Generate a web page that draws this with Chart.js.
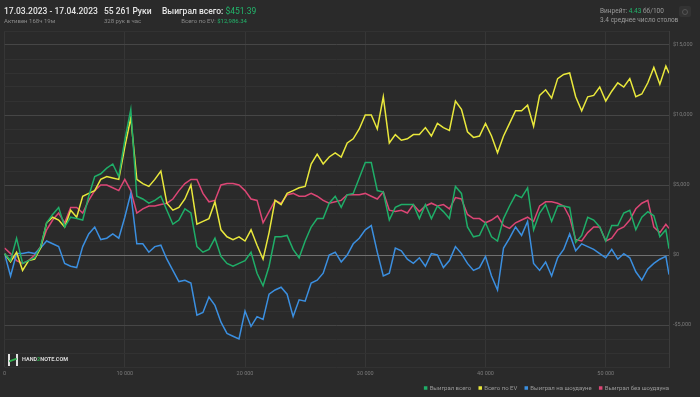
<!DOCTYPE html>
<html>
<head>
<meta charset="utf-8">
<script src="https://cdn.jsdelivr.net/npm/chart.js@4"></script>
<style>
  html, body { margin: 0; padding: 0; background: #2a2a2a; overflow: hidden; }
  body { width: 700px; height: 397px; position: relative; font-family: Roboto, "Noto Sans", sans-serif; }
  .t { position: absolute; white-space: nowrap; line-height: 1; }
  .big { font-size: 8.5px; font-weight: 500; color: #e6e6e6; }
  .small { font-size: 6px; color: #8a8a8a; }
  .g { color: #22b56b; }
  #wrap { position: absolute; left: 0; top: 0; width: 700px; height: 401px; }
</style>
</head>
<body>
<div id="wrap"><canvas id="myChart" width="700" height="401"></canvas></div>

<div class="t big" style="left:4px; top:7px;">17.03.2023 - 17.04.2023</div>
<div class="t small" style="left:4px; top:18px;">Активен 168ч 19м</div>
<div class="t big" style="left:104px; top:7px;">55 261 Руки</div>
<div class="t small" style="left:104px; top:18px;">328 рук в час</div>
<div class="t big" style="left:162px; top:7px;">Выиграл всего: <span class="g" style="font-weight:400">$451.39</span></div>
<div class="t small" style="right:453px; top:18px;">Всего по EV: <span class="g">$12,986.34</span></div>
<div class="t small" style="left:600px; top:8px; font-size:6.5px; color:#9a9a9a;">Винрейт: <span class="g">4.43</span> бб/100</div>
<div class="t small" style="left:600px; top:17px; font-size:6.5px; color:#9a9a9a;">3.4 среднее число столов</div>
<div style="position:absolute; left:679px; top:6px; width:12px; height:11px; background:#333; border-radius:2px;">
  <div style="position:absolute; left:3px; top:2.5px; width:4px; height:4px; border:1px solid #555; border-radius:50%;"></div>
</div>

<div style="position:absolute; left:8px; top:354px; width:2px; height:12px; background:#e0e0e0;"></div>
<div style="position:absolute; left:16px; top:354px; width:2px; height:12px; background:#e0e0e0;"></div>
<div style="position:absolute; left:9px; top:359px; width:8px; height:2px; background:#2fae4e; transform:rotate(-20deg);"></div>
<div class="t" style="left:22px; top:357px; font-size:5.5px; font-weight:700; color:#d8d8d8;">HAND<span style="color:#2fae4e">2</span>NOTE.COM</div>

<script>
// руки (ось X)
const hands = [0,500,1000,1500,2000,2500,3000,3500,4000,4500,
  5000,5500,6000,6500,7000,7500,8000,8500,9000,9500,
  10000,10500,11000,11500,12000,12500,13000,13500,14000,14500,
  15000,15500,16000,16500,17000,17500,18000,18500,19000,19500,
  20000,20500,21000,21500,22000,22500,23000,23500,24000,24500,
  25000,25500,26000,26500,27000,27500,28000,28500,29000,29500,
  30000,30500,31000,31500,32000,32500,33000,33500,34000,34500,
  35000,35500,36000,36500,37000,37500,38000,38500,39000,39500,
  40000,40500,41000,41500,42000,42500,43000,43500,44000,44500,
  45000,45500,46000,46500,47000,47500,48000,48500,49000,49500,
  50000,50500,51000,51500,52000,52500,53000,53500,54000,54500,55000,55261];

const wonTotal = [100,-400,1200,-600,-400,-200,600,2300,2900,3400,
  2000,2700,2600,2500,4200,5600,5800,6200,6500,5600,
  8200,10400,4200,4000,3700,3900,4200,3200,2200,2500,
  3300,3000,600,200,400,1200,-100,-600,-800,-600,
  -400,200,-1300,-2200,-800,1300,1300,1400,400,-200,
  1000,2000,2600,2600,3700,4200,3400,4300,4400,5500,
  6600,6600,4600,4500,2500,3400,3600,3600,3600,2600,
  3600,2600,3500,3100,2600,4900,4400,2000,1300,1400,
  2300,1300,1000,2600,3500,4300,4100,4800,1800,3000,
  3600,2400,3500,3500,3400,900,1400,2700,2500,2000,
  1000,2100,2100,3000,3200,1800,2700,3100,2800,1300,1800,451];

const evTotal = [100,-500,200,-1100,-400,-300,500,2300,2700,2500,
  2000,3200,2700,4200,4400,4600,5400,5600,5500,5400,
  7700,9800,5400,5100,4900,5400,6000,3700,3200,3400,
  4000,5000,2200,2400,2600,3800,1800,1300,1100,1300,
  1000,1800,700,-300,1600,3900,3600,4400,4600,4800,
  4900,6500,7200,6500,7000,7300,7000,8000,8300,9000,
  10000,10000,9000,11300,8000,8600,8200,8300,8600,8600,
  9100,8500,9400,9100,8900,11000,10400,8800,8400,8500,
  9400,8500,7300,8500,9400,10300,10300,10700,9200,11400,
  11800,11200,12600,12900,13000,11300,10300,11300,11400,12000,
  11000,11700,12300,12000,12600,11300,11500,12300,13400,12200,13500,12986];

const wonShowdown = [100,-1500,100,100,200,100,500,1000,800,600,
  -600,-800,-900,600,1500,2000,1100,1200,1500,1200,
  2700,4400,800,800,200,600,700,-300,-1100,-1900,
  -1800,-2000,-4300,-4100,-3000,-3600,-4800,-5600,-5800,-6000,
  -4000,-5100,-4400,-4600,-2800,-2500,-2300,-2800,-4400,-3200,
  -3300,-2000,-1800,-1300,0,200,-500,0,800,1200,
  1800,2100,200,-1500,-1300,500,300,-300,-600,-200,
  -800,100,0,-900,-400,600,100,-600,-1100,-900,
  -100,-1500,-2500,500,1200,2000,1400,2400,-600,-1100,
  -500,-1500,-200,400,1500,300,800,600,400,100,
  -200,400,-300,100,-200,-1200,-1800,-1000,-600,-300,-100,-1400];

const wonNoShowdown = [500,100,-400,-600,-400,0,600,1800,2500,3000,
  2300,3400,3400,3000,3900,4600,5000,5000,4800,4600,
  5400,4600,3000,3300,3500,3500,3600,3700,4000,4600,
  5100,5400,5400,4400,3800,3900,5000,5100,5100,5000,
  4600,4000,3900,2300,3100,3900,3700,4300,4400,4200,
  4200,4400,4200,3900,3700,3800,3900,4300,4300,4300,
  4400,4200,4000,4500,3200,3100,3200,3000,3600,3100,
  3500,3700,3500,3600,3300,4100,4000,2900,2600,2600,
  2300,2500,2800,2100,1900,2300,2500,2700,2400,3500,
  3800,3800,3700,3500,2700,1100,1000,1600,2000,2000,
  1000,1200,1800,2000,2500,3300,3700,3900,2000,1600,2200,1900];

const seriesNames = ['Выиграл всего', 'Всего по EV', 'Выиграл на шоудауне', 'Выиграл без шоудауна'];
const seriesColors = ['#1fae68', '#e9e83c', '#3b8fe0', '#dc4675'];
const xTicks = [0, 10000, 20000, 30000, 40000, 50000];

function pts(arr) {
  return arr.map((v, i) => ({ x: hands[i], y: v }));
}

const allSeries = [wonTotal, evTotal, wonShowdown, wonNoShowdown];

// сдвигаем легенду левее, под правый край графика
const legendShift = {
  id: 'legendShift',
  afterLayout(chart) {
    chart.legend.right -= 18;
    chart.legend.left -= 18;
  },
};

const ctx = document.getElementById('myChart').getContext('2d');
const myChart = new Chart(ctx, {
  type: 'line',
  data: {
    datasets: allSeries.map((s, i) => ({
      label: seriesNames[i],
      data: pts(s),
      borderColor: seriesColors[i],
      backgroundColor: seriesColors[i],
      borderWidth: 1.5,
      pointRadius: 0,
      tension: 0,
    })),
  },
  plugins: [legendShift],
  options: {
    responsive: false,
    animation: false,
    events: [],
    layout: { padding: { left: 4, right: 5, top: 31, bottom: 0 } },
    plugins: {
      tooltip: { enabled: false },
      legend: {
        position: 'bottom',
        align: 'end',
        labels: {
          color: '#9a9a9a',
          font: { family: 'Roboto', size: 6 },
          boxWidth: 2,
          boxHeight: 2,
          padding: 8,
        },
      },
    },
    scales: {
      x: {
        type: 'linear',
        min: 0,
        max: 55261,
        afterBuildTicks: (s) => { s.ticks = xTicks.map(v => ({ value: v })); },
        afterFit: (s) => { s.height = 10; },
        grid: { color: '#363636', drawTicks: false },
        border: { display: false },
        ticks: {
          color: '#7a7a7a',
          font: { family: 'Roboto', size: 5.5 },
          padding: 3,
          maxRotation: 0,
          callback: (v) => v === 0 ? '0' : (v / 1000) + ' 000',
        },
      },
      y: {
        position: 'right',
        min: -8000,
        max: 16000,
        afterFit: (s) => { s.width = 26; },
        grid: {
          drawTicks: false,
          color: (c) => {
            const v = c.tick.value;
            if (v === 0) return '#707070';
            if (v % 5000 === 0) return '#464646';
            return '#323232';
          },
        },
        border: { color: '#3c3c3c' },
        ticks: {
          stepSize: 1000,
          autoSkip: false,
          color: '#7a7a7a',
          font: { family: 'Roboto', size: 5.5 },
          padding: 4,
          callback: (v) => {
            if (v % 5000 !== 0) return '';
            const s = '$' + Math.abs(v).toLocaleString('en-US');
            return v < 0 ? '-' + s : s;
          },
        },
      },
    },
  },
});
</script>
</body>
</html>
